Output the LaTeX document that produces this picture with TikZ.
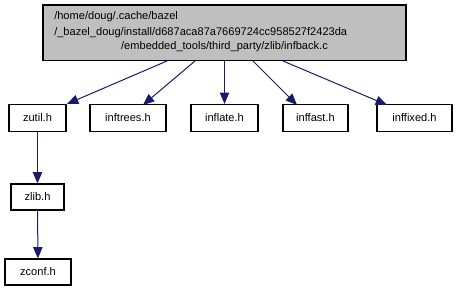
\documentclass[tikz,border=0pt]{standalone}
\usepackage{fontspec}
\setmainfont{Liberation Sans}
\usetikzlibrary{arrows.meta}
\definecolor{edgeblue}{HTML}{191970}
\definecolor{srcgray}{HTML}{BFBFBF}
\begin{document}
\begin{tikzpicture}[x=0.75pt,y=-0.75pt,
  filebox/.style={draw=black,line width=0.8pt,rectangle,inner sep=0pt,
    font=\fontsize{8.3}{10}\selectfont},
  dep/.style={draw=edgeblue,line width=0.75pt,
    -{Triangle[length=8.5pt,width=7pt,fill=edgeblue]}},
  txt/.style={inner sep=0pt,font=\fontsize{8.3}{10}\selectfont}]
\useasboundingbox (0,0) rectangle (457,291);
% source file
\node[filebox,fill=srcgray,minimum width=363*0.75pt,minimum height=55.5*0.75pt]
  (src) at (224.5,32.75) {};
\node[txt,anchor=west] (l1) at (54,16.5) {/home/doug/.cache/bazel};
\node[txt,anchor=west] (l2) at (54,32.5) {/\_bazel\_doug/install/d687aca87a7669724cc958527f2423da};
\node[txt] (l3) at (224.5,47) {/embedded\_tools/third\_party/zlib/infback.c};
% included headers
\node[filebox,minimum width=57*0.75pt,minimum height=27*0.75pt] (zutil) at (37.5,118) {zutil.h};
\node[filebox,minimum width=76*0.75pt,minimum height=27*0.75pt] (inftrees) at (128,118) {inftrees.h};
\node[filebox,minimum width=67*0.75pt,minimum height=27*0.75pt] (inflate) at (224.5,118) {inflate.h};
\node[filebox,minimum width=65*0.75pt,minimum height=27*0.75pt] (inffast) at (315.5,118) {inffast.h};
\node[filebox,minimum width=75*0.75pt,minimum height=27*0.75pt] (inffixed) at (414.5,118) {inffixed.h};
\node[filebox,minimum width=53*0.75pt,minimum height=26*0.75pt] (zlib) at (37.5,197) {zlib.h};
\node[filebox,minimum width=66*0.75pt,minimum height=26*0.75pt] (zconf) at (38,272) {zconf.h};
% include edges
\draw[dep] (167,61) -- (zutil.north -| 67,0);
\draw[dep] (195,61) -- (143,105);
\draw[dep] (src.south -| inflate) -- (inflate.north);
\draw[dep] (253,61) -- (297,105);
\draw[dep] (283,61) -- (387,105);
\draw[dep] (zutil) -- (zlib);
\draw[dep] (zlib) -- (zconf);
\end{tikzpicture}
\end{document}
